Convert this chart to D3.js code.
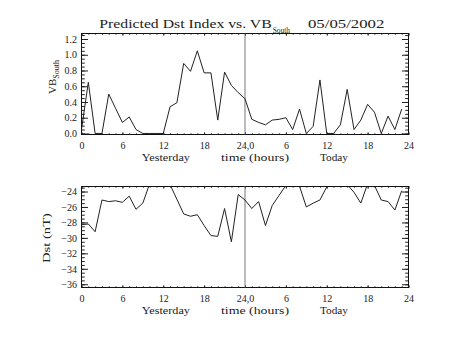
<!DOCTYPE html>
<html><head><meta charset="utf-8">
<script src="https://cdn.jsdelivr.net/npm/d3@7"></script>
<style>body{margin:0;background:#fff}text{font-family:"Liberation Serif",serif;fill:#222}</style>
</head><body>
<svg id="c" width="453" height="340"></svg>
<script>
// ---- data ----
const hours = d3.range(48);
const vbSouth = [0.05,0.65,0,0,0.50,0.32,0.14,0.21,0.05,0,0,0,0,0.34,0.39,0.89,0.79,1.05,0.77,0.77,0.17,0.78,0.61,0.52,
                 0.44,0.18,0.14,0.11,0.17,0.18,0.20,0.05,0.31,0,0.09,0.68,0,0,0.11,0.56,0.05,0.17,0.37,0.27,0,0.22,0.05,0.31];
const dst = [-28.3,-28.2,-29.2,-25.1,-25.3,-25.2,-25.4,-24.6,-26.3,-25.5,-23.0,-22.3,-22.4,-23.1,-25.0,-26.9,-27.2,-27.0,-28.4,-29.7,-29.8,-26.2,-30.5,-24.4,
             -25.1,-26.2,-25.3,-28.4,-25.8,-24.5,-23.2,-22.6,-23.3,-26.0,-25.5,-25.1,-23.4,-22.5,-22.8,-23.1,-24.1,-25.5,-23.0,-23.2,-25.1,-25.3,-26.4,-23.9];
const xTickValues = [0,6,12,18,24,30,36,42,48];
const xTickLabels = ["0","6","12","18","24,0","6","12","18","24"];
const vbTicks = [0,0.2,0.4,0.6,0.8,1.0,1.2];
const dstTicks = [-36,-34,-32,-30,-28,-26,-24];
const titleMain = "Predicted Dst Index vs. VB", titleSub = "South", titleDate = "05/05/2002";
const xTitleParts = ["Yesterday","time (hours)","Today"];

const svg = d3.select("#c");
const L = 81.5, R = 408.5;
const x = d3.scaleLinear().domain([0,48]).range([L,R]);

function panel(top, bottom, domain, values, majors, minorStep, fmt, id) {
  const y = d3.scaleLinear().domain(domain).range([bottom, top]);
  const g = svg.append("g");
  const minorsY = d3.range(Math.ceil(domain[0]/minorStep), Math.floor(domain[1]/minorStep)+1).map(k => +(k*minorStep).toFixed(4));
  const minorsX = d3.range(0,49);
  // minor ticks
  g.append("g").attr("transform",`translate(${L},0)`).call(d3.axisLeft(y).tickValues(minorsY).tickSize(-3.3).tickFormat(""));
  g.append("g").attr("transform",`translate(${R},0)`).call(d3.axisRight(y).tickValues(minorsY).tickSize(-3.3).tickFormat(""));
  g.append("g").attr("transform",`translate(0,${bottom})`).call(d3.axisBottom(x).tickValues(minorsX).tickSize(-1.2).tickFormat(""));
  g.append("g").attr("transform",`translate(0,${top})`).call(d3.axisTop(x).tickValues(minorsX).tickSize(-1.2).tickFormat(""));
  // major ticks
  g.append("g").attr("class","yl").attr("transform",`translate(${L},0)`).call(d3.axisLeft(y).tickValues(majors).tickSize(-6.5).tickPadding(4.5).tickFormat(fmt));
  g.append("g").attr("transform",`translate(${R},0)`).call(d3.axisRight(y).tickValues(majors).tickSize(-6.5).tickFormat(""));
  g.append("g").attr("class","xl").attr("transform",`translate(0,${bottom})`).call(d3.axisBottom(x).tickValues(xTickValues).tickSize(-2.2).tickPadding(7.5).tickFormat((d,i)=>xTickLabels[i]));
  g.append("g").attr("transform",`translate(0,${top})`).call(d3.axisTop(x).tickValues(xTickValues).tickSize(-2.2).tickFormat(""));
  g.selectAll(".domain").remove();
  g.selectAll(".tick line").attr("stroke","#222");
  g.selectAll(".tick text").attr("font-family","Liberation Serif").attr("font-size",10).attr("fill","#222");
  // frame
  g.append("rect").attr("x",L).attr("y",top).attr("width",R-L).attr("height",bottom-top).attr("fill","none").attr("stroke","#111");
  // vertical line at 24
  g.append("line").attr("x1",x(24)).attr("x2",x(24)).attr("y1",top).attr("y2",bottom).attr("stroke","#777");
  // clip + data line
  svg.append("clipPath").attr("id",id).append("rect").attr("x",L).attr("y",top).attr("width",R-L).attr("height",bottom-top);
  g.append("path").datum(hours.map((h,i)=>[h,values[i]])).attr("clip-path",`url(#${id})`)
    .attr("fill","none").attr("stroke","#222").attr("stroke-width",1)
    .attr("d", d3.line().x(d=>x(d[0])).y(d=>y(d[1])));
  // x title
  const xt = [[141.7,48.3],[221,68],[320,28]];
  xTitleParts.forEach((t,i)=>{
    g.append("text").attr("x",xt[i][0]).attr("y",bottom+26.5).attr("font-size",10)
      .attr("textLength",xt[i][1]).attr("lengthAdjust","spacingAndGlyphs").text(t);
  });
  return y;
}

panel(33.5,134.5,[-0.013,1.27],vbSouth,vbTicks,0.05,d3.format(".1f"),"c1");
panel(186.5,287.5,[-36.42,-23.35],dst,dstTicks,0.5,d3.format("d"),"c2");

// title
svg.append("text").attr("x",99.3).attr("y",27.7).attr("font-size",12).attr("textLength",172.4).attr("lengthAdjust","spacingAndGlyphs").text(titleMain);
svg.append("text").attr("x",272.7).attr("y",33).attr("font-size",8).attr("textLength",17.3).attr("lengthAdjust","spacingAndGlyphs").text(titleSub);
svg.append("text").attr("x",308).attr("y",27.7).attr("font-size",12).attr("textLength",76.3).attr("lengthAdjust","spacingAndGlyphs").text(titleDate);

// y titles
const yt1 = svg.append("text").attr("transform","translate(56,94) rotate(-90)").attr("font-size",11);
yt1.append("tspan").text("VB");
yt1.append("tspan").attr("font-size",8).attr("dy",3).text("South");
svg.append("text").attr("transform","translate(50,238) rotate(-90)").attr("text-anchor","middle").attr("font-size",11)
  .attr("textLength",50).attr("lengthAdjust","spacingAndGlyphs").text("Dst (nT)");
</script>
</body></html>
